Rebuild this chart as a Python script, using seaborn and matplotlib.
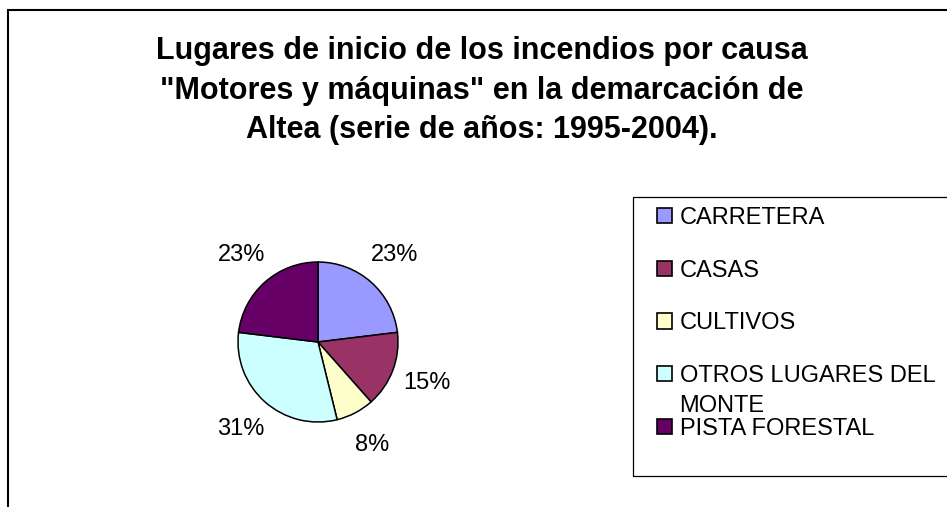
import matplotlib
matplotlib.use("Agg")
import matplotlib.pyplot as plt
from matplotlib.patches import Rectangle
from matplotlib.text import Annotation
import seaborn as sns

# data
lugares = ["CARRETERA", "CASAS", "CULTIVOS", "OTROS LUGARES DEL", "PISTA FORESTAL"]
incendios = [3, 2, 1, 4, 3]
colores = ["#9999FF", "#993366", "#FFFFCC", "#CCFFFF", "#660066"]
titulo = ('Lugares de inicio de los incendios por causa\n'
          '"Motores y máquinas" en la demarcación de\n'
          'Altea (serie de años: 1995-2004).')

sns.set_style("white")
plt.rcParams["font.family"] = ["Liberation Sans", "DejaVu Sans"]
plt.rcParams["text.color"] = "black"

W, H = 947, 507
fig = plt.figure(figsize=(W / 100, H / 100), dpi=100)
fig.patch.set_facecolor("white")

# outer chart border (right and bottom edges fall outside the picture)
fig.patches.append(Rectangle((8 / W, -0.2), 1.5, 1 - 10 / H + 0.2, fill=False,
                             edgecolor="black", linewidth=1.5,
                             transform=fig.transFigure, figure=fig))

fig.text(482 / W, 1 - 36 / H, titulo, ha="center", va="top", fontsize=22,
         fontweight="bold", linespacing=1.42, multialignment="center")

# pie: centre (318, 342), radius 80 px; pie() uses +-1.25 limits
r = 80
side = 2.5 * r
ax = fig.add_axes([(318 - side / 2) / W, (H - 342 - side / 2) / H, side / W, side / H])
pal = sns.color_palette(colores)
wedges, _, pct = ax.pie(incendios, colors=pal, startangle=90, counterclock=False,
                        autopct="%1.0f%%", pctdistance=1.45,
                        wedgeprops=dict(edgecolor="black", linewidth=1.1))
for t in pct:
    t.set_fontsize(17)

# legend box
fig.patches.append(Rectangle((633 / W, (H - 476) / H), 0.5, (476 - 197) / H, fill=False,
                             edgecolor="black", linewidth=0.9,
                             transform=fig.transFigure, figure=fig))
leg = fig.legend(wedges, lugares, loc="upper left",
                 bbox_to_anchor=(638 / W, 1 - 188 / H), frameon=False,
                 fontsize=17, handlelength=0.62, handleheight=0.62,
                 handletextpad=0.34, labelspacing=1.3, borderpad=0.3)
for h in leg.legend_handles:
    h.set_edgecolor("black")
    h.set_linewidth(1.2)

# second line of the "OTROS LUGARES DEL MONTE" entry, as in the original
otros = leg.get_texts()[3]
monte = Annotation("MONTE", xy=(0, 0), xycoords=otros, xytext=(0, -6),
                   textcoords="offset points", ha="left", va="top", fontsize=17,
                   annotation_clip=False)
monte.set_zorder(6)
fig.add_artist(monte)

fig.savefig("out.png", dpi=100, facecolor="white")
